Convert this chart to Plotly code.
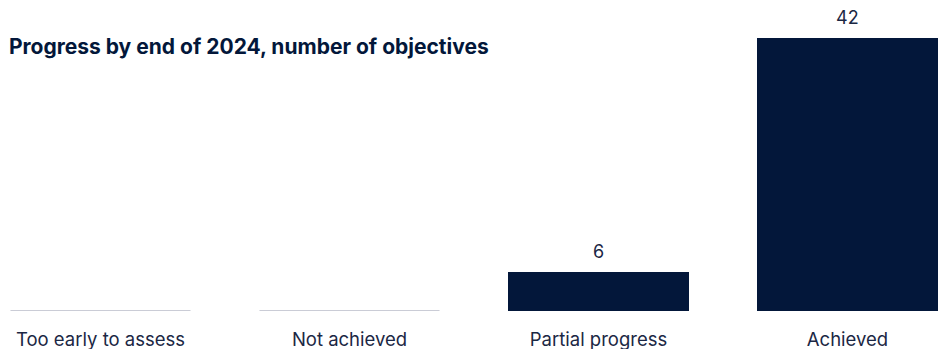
import plotly.graph_objects as go

# Objectives by status at the end of 2024
categories = ["Too early to assess", "Not achieved", "Partial progress", "Achieved"]
counts = [0, 0, 6, 42]

NAVY = "#03173a"
TEXT = "#1b2744"
ZERO_LINE = "#b9bbc8"
BAR_W = 0.723
FONT = "Inter"

positions = list(range(len(categories)))

fig = go.Figure()

fig.add_trace(go.Bar(
    x=positions,
    y=counts,
    width=BAR_W,
    marker=dict(color=NAVY, line=dict(width=0)),
    hoverinfo="skip",
    showlegend=False,
))

# categories with no objectives get a thin baseline segment instead of a bar
for pos, val in zip(positions, counts):
    if val == 0:
        fig.add_trace(go.Scatter(
            x=[pos - BAR_W / 2, pos + BAR_W / 2],
            y=[val, val],
            mode="lines",
            line=dict(color=ZERO_LINE, width=1.3),
            hoverinfo="skip",
            showlegend=False,
            cliponaxis=False,
        ))

# value labels above non-zero bars
for pos, val in zip(positions, counts):
    if val > 0:
        fig.add_annotation(
            x=pos, y=val, text=str(val), showarrow=False,
            yanchor="bottom", yshift=8,
            font=dict(family=FONT, size=18, color=TEXT),
        )

fig.update_layout(
    width=940, height=349,
    margin=dict(l=0, r=0, t=0, b=38),
    paper_bgcolor="white", plot_bgcolor="white",
    title=dict(
        text="<b>Progress by end of 2024, number of objectives</b>",
        x=0.0095, xanchor="left", y=0.866, yanchor="middle",
        font=dict(family=FONT, size=21, color=NAVY),
    ),
    bargap=0,
    xaxis=dict(
        range=[-0.4036, 3.3715],
        tickmode="array", tickvals=positions, ticktext=categories,
        showgrid=False, zeroline=False, showline=False,
        ticks="outside", ticklen=12, tickcolor="rgba(0,0,0,0)",
        tickfont=dict(family=FONT, size=18.5, color=TEXT),
    ),
    yaxis=dict(
        range=[0, 47.85],
        visible=False, showgrid=False, zeroline=False,
    ),
)

fig.write_html("out.html")
